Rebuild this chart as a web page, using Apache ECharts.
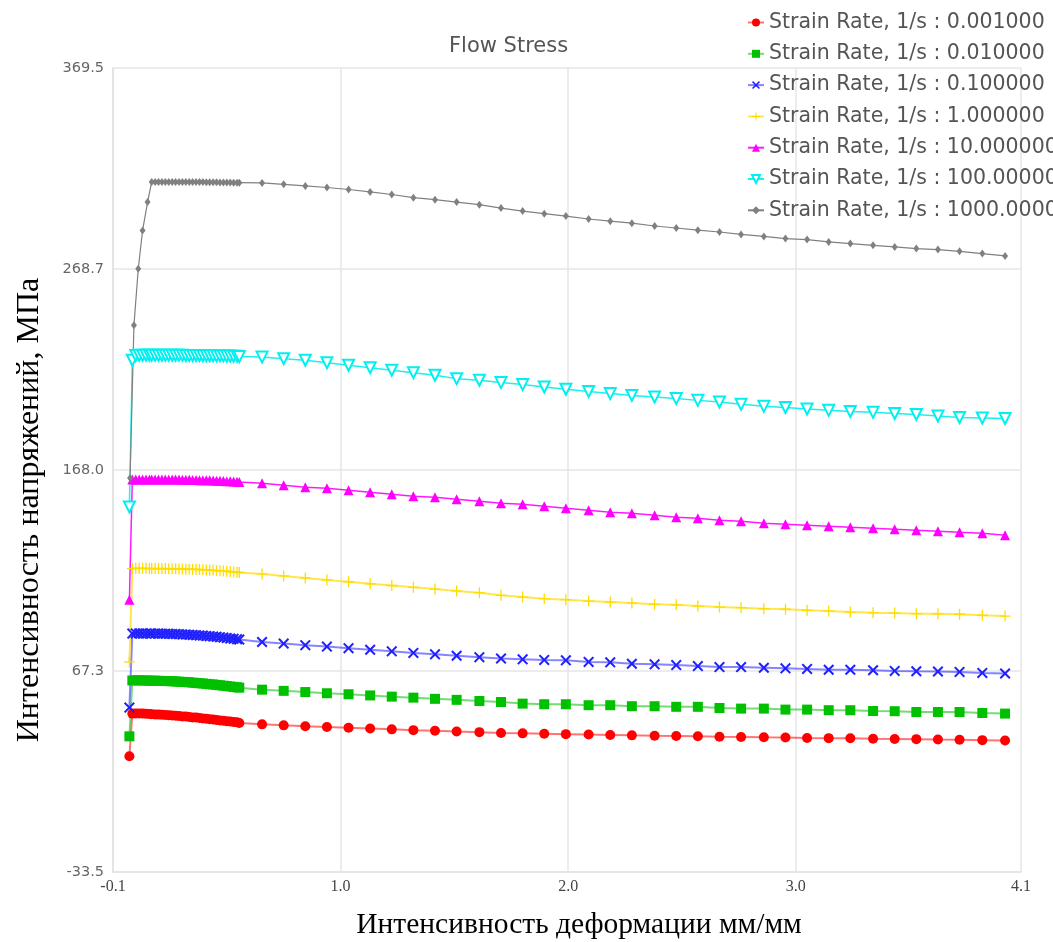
<!DOCTYPE html>
<html>
<head>
<meta charset="utf-8">
<script src="https://cdn.jsdelivr.net/npm/echarts@6/dist/echarts.min.js"></script>
<style>html,body{margin:0;padding:0;background:#fff;}#c{width:1053px;height:942px;}</style>
</head>
<body>
<div id="c"></div>
<script>
// ---- tick labels ----
const xTickLabels = ['-0.1', '1.0', '2.0', '3.0', '4.1'];
const yTickLabels = ['-33.5', '67.3', '168.0', '268.7', '369.5'];

// ---- series names ----
const seriesNames = [
  'Strain Rate, 1/s : 0.001000',
  'Strain Rate, 1/s : 0.010000',
  'Strain Rate, 1/s : 0.100000',
  'Strain Rate, 1/s : 1.000000',
  'Strain Rate, 1/s : 10.000000',
  'Strain Rate, 1/s : 100.000000',
  'Strain Rate, 1/s : 1000.000000'
];

// ---- x values (strain) ----
const headX = [0.072, 0.085, 0.1, 0.115, 0.13, 0.145, 0.16];
const greyHeadX = [0.075, 0.092, 0.111, 0.13, 0.152];
const denseX = [0.17, 0.185, 0.2, 0.215, 0.23, 0.245, 0.26, 0.275, 0.29, 0.305, 0.32, 0.335, 0.35, 0.365, 0.38, 0.395, 0.41, 0.425, 0.44, 0.455, 0.47, 0.485, 0.5, 0.515, 0.53, 0.545, 0.555];
const sparseX = [0.655, 0.75, 0.845, 0.94, 1.035, 1.13, 1.225, 1.32, 1.415, 1.51, 1.61, 1.705, 1.8, 1.895, 1.99, 2.09, 2.185, 2.28, 2.38, 2.475, 2.57, 2.665, 2.76, 2.86, 2.955, 3.05, 3.145, 3.24, 3.34, 3.435, 3.53, 3.625, 3.72, 3.82, 3.92];

// ---- stress values, MPa ----
// 0.001
const redHead = [24.5, 45.9, 46.0, 46.0, 45.9, 45.8, 45.7];
const redDense = [45.6, 45.5, 45.4, 45.3, 45.2, 45.1, 45.0, 44.8, 44.7, 44.5, 44.4, 44.2, 44.0, 43.9, 43.7, 43.5, 43.3, 43.1, 42.9, 42.7, 42.5, 42.3, 42.1, 41.9, 41.7, 41.5, 41.2];
const redSparse = [40.5, 40.0, 39.6, 39.2, 38.8, 38.4, 38.0, 37.6, 37.3, 36.9, 36.6, 36.2, 36.0, 35.8, 35.6, 35.4, 35.2, 35.0, 34.8, 34.7, 34.5, 34.3, 34.2, 34.0, 33.9, 33.7, 33.6, 33.5, 33.3, 33.2, 33.1, 32.9, 32.8, 32.6, 32.4];
// 0.01
const greenHead = [34.5, 62.5, 62.6, 62.6, 62.5, 62.5, 62.4];
const greenDense = [62.4, 62.4, 62.3, 62.3, 62.2, 62.2, 62.1, 62.0, 61.9, 61.8, 61.7, 61.6, 61.4, 61.3, 61.1, 61.0, 60.8, 60.6, 60.5, 60.3, 60.1, 59.9, 59.7, 59.5, 59.3, 59.1, 58.9];
const greenSparse = [57.9, 57.3, 56.7, 56.1, 55.6, 55.0, 54.4, 53.9, 53.3, 52.8, 52.2, 51.7, 50.9, 50.6, 50.6, 50.1, 50.1, 49.6, 49.6, 49.3, 49.3, 48.7, 48.4, 48.4, 47.9, 47.9, 47.6, 47.6, 47.2, 47.1, 46.7, 46.7, 46.7, 46.2, 45.9];
// 0.1
const blueHead = [48.9, 86.0, 86.1, 86.1, 86.1, 86.0, 86.0];
const blueDense = [86.0, 86.0, 86.0, 85.9, 85.9, 85.9, 85.8, 85.8, 85.7, 85.6, 85.5, 85.4, 85.3, 85.2, 85.1, 85.0, 84.8, 84.7, 84.5, 84.4, 84.2, 84.0, 83.8, 83.6, 83.4, 83.2, 83.0];
const blueSparse = [81.8, 81.0, 80.2, 79.5, 78.7, 77.9, 77.1, 76.3, 75.6, 74.9, 74.2, 73.5, 73.1, 72.8, 72.6, 71.8, 71.6, 70.9, 70.6, 70.2, 69.7, 69.2, 69.2, 68.9, 68.6, 68.3, 67.9, 67.9, 67.6, 67.3, 67.1, 67.0, 66.8, 66.3, 66.0];
// 1
const yellowHead = [71.8, 118.6, 118.7, 118.7, 118.7, 118.7, 118.6];
const yellowDense = [118.6, 118.6, 118.6, 118.6, 118.6, 118.5, 118.5, 118.5, 118.4, 118.4, 118.3, 118.3, 118.2, 118.2, 118.1, 118.0, 117.9, 117.8, 117.7, 117.6, 117.5, 117.4, 117.2, 117.1, 116.9, 116.8, 116.6];
const yellowSparse = [115.9, 114.9, 113.9, 112.9, 112.0, 111.0, 110.1, 109.2, 108.3, 107.4, 106.5, 105.2, 104.3, 103.5, 103.0, 102.3, 101.8, 101.3, 100.7, 100.4, 99.8, 99.3, 99.0, 98.5, 98.2, 97.7, 97.3, 96.8, 96.5, 96.3, 96.0, 95.9, 95.7, 95.2, 94.8];
// 10
const magentaHead = [103.0, 163.2, 163.3, 163.3, 163.3, 163.3, 163.3];
const magentaDense = [163.3, 163.3, 163.3, 163.3, 163.3, 163.2, 163.2, 163.2, 163.2, 163.1, 163.1, 163.1, 163.0, 163.0, 162.9, 162.9, 162.8, 162.8, 162.7, 162.6, 162.6, 162.5, 162.4, 162.3, 162.2, 162.1, 162.0];
const magentaSparse = [161.3, 160.3, 159.3, 158.8, 157.8, 156.8, 155.8, 154.8, 154.3, 153.3, 152.3, 151.3, 150.8, 149.8, 148.8, 147.8, 146.8, 146.3, 145.3, 144.3, 143.8, 142.8, 142.3, 141.3, 140.8, 140.3, 139.8, 139.3, 138.8, 138.3, 137.8, 137.3, 136.8, 136.3, 135.3];
// 100
const cyanHead = [149.5, 223.0, 225.4, 225.5, 225.5, 225.5, 225.5];
const cyanDense = [225.5, 225.5, 225.5, 225.5, 225.5, 225.5, 225.5, 225.5, 225.5, 225.5, 225.4, 225.4, 225.4, 225.4, 225.4, 225.3, 225.3, 225.3, 225.3, 225.2, 225.2, 225.2, 225.1, 225.1, 225.0, 225.0, 224.9];
const cyanSparse = [224.6, 223.8, 223.0, 221.8, 220.5, 219.3, 218.0, 216.8, 215.5, 213.8, 213.0, 211.8, 210.8, 209.6, 208.5, 207.4, 206.3, 205.4, 204.6, 203.8, 202.9, 202.1, 200.9, 199.9, 199.3, 198.6, 197.9, 197.3, 196.9, 196.3, 195.8, 195.1, 194.3, 194.1, 193.8];
// 1000
const greyHead = [164.0, 240.5, 268.9, 288.1, 302.3];
const greyDense = [312.4, 312.4, 312.4, 312.4, 312.4, 312.4, 312.4, 312.4, 312.4, 312.4, 312.3, 312.3, 312.3, 312.3, 312.3, 312.3, 312.2, 312.2, 312.2, 312.2, 312.1, 312.1, 312.1, 312.1, 312.0, 312.0, 312.0];
const greySparse = [311.9, 311.2, 310.4, 309.6, 308.6, 307.4, 306.1, 304.5, 303.5, 302.3, 301.0, 299.3, 297.8, 296.5, 295.3, 293.8, 292.7, 291.7, 290.3, 289.3, 288.2, 287.3, 286.1, 285.1, 284.0, 283.5, 282.3, 281.5, 280.6, 279.8, 279.0, 278.5, 277.6, 276.5, 275.3];

function pairs(hx, hy, dy, sy) {
  const xs = hx.concat(denseX, sparseX);
  const ys = hy.concat(dy, sy);
  return xs.map((x, i) => [x, ys[i]]);
}

const X_MARK = 'path://M0,1.3L1.3,0L5,3.7L8.7,0L10,1.3L6.3,5L10,8.7L8.7,10L5,6.3L1.3,10L0,8.7L3.7,5Z';
const PLUS_MARK = 'path://M4.4,0H5.6V4.4H10V5.6H5.6V10H4.4V5.6H0V4.4H4.4Z';

const styles = [
  {color: '#ff0000', symbol: 'circle', size: 10, lw: 2, lop: 0.55},
  {color: '#00c000', symbol: 'rect', size: 10, lw: 2, lop: 0.55},
  {color: '#2020ff', symbol: X_MARK, size: 11, lw: 2, lop: 0.55},
  {color: '#ffdd00', symbol: PLUS_MARK, size: 11, lw: 2, lop: 0.7},
  {color: '#ff00ff', symbol: 'triangle', size: 10, lw: 1.5, lop: 0.9},
  {color: '#00f0f0', symbol: 'emptyTriangle', size: 11, lw: 1.5, lop: 0.9, rotate: 180},
  {color: '#808080', symbol: 'diamond', size: [6, 8], lw: 1.2, lop: 1}
];

const dataSets = [
  pairs(headX, redHead, redDense, redSparse),
  pairs(headX, greenHead, greenDense, greenSparse),
  pairs(headX, blueHead, blueDense, blueSparse),
  pairs(headX, yellowHead, yellowDense, yellowSparse),
  pairs(headX, magentaHead, magentaDense, magentaSparse),
  pairs(headX, cyanHead, cyanDense, cyanSparse),
  pairs(greyHeadX, greyHead, greyDense, greySparse)
];

const series = seriesNames.map((name, i) => {
  const s = styles[i];
  return {
    name: name,
    type: 'line',
    data: dataSets[i],
    symbol: s.symbol,
    symbolSize: s.size,
    symbolRotate: s.rotate || 0,
    showAllSymbol: true,
    animation: false,
    itemStyle: {color: s.color, borderColor: s.color, borderWidth: s.symbol === 'emptyTriangle' ? 1.5 : 0},
    lineStyle: {color: s.color, width: s.lw, opacity: s.lop},
    emphasis: {disabled: true}
  };
});

const chart = echarts.init(document.getElementById('c'), null, {renderer: 'canvas'});
chart.setOption({
  backgroundColor: '#ffffff',
  animation: false,
  title: {
    text: 'Flow Stress', left: 444, top: 31,
    textStyle: {fontFamily: 'DejaVu Sans', fontSize: 21, fontWeight: 'normal', color: '#555'}
  },
  legend: {
    orient: 'vertical', left: 742, top: 7,
    itemWidth: 16, itemHeight: 10, itemGap: 10.3,
    textStyle: {fontFamily: 'DejaVu Sans', fontSize: 20.5, color: '#555', lineHeight: 20},
    data: seriesNames
  },
  grid: {left: 113, right: 32, top: 68, bottom: 70, containLabel: false},
  xAxis: {
    type: 'value', min: 0, max: 3.99, interval: 1,
    axisLine: {show: true, onZero: false, lineStyle: {color: '#e2e2e2', width: 1.5}},
    axisTick: {show: false},
    splitLine: {show: true, lineStyle: {color: '#e6e6e6', width: 1.5}},
    axisLabel: {
      showMinLabel: true, showMaxLabel: true, margin: 7,
      fontFamily: 'Liberation Serif', fontSize: 16, color: '#444',
      formatter: (v, i) => xTickLabels[i]
    }
  },
  yAxis: {
    type: 'value', min: -33.5, max: 369.5, interval: 100.75,
    axisLine: {show: true, onZero: false, lineStyle: {color: '#e2e2e2', width: 1.5}},
    axisTick: {show: false},
    splitLine: {show: true, lineStyle: {color: '#e6e6e6', width: 1.5}},
    axisLabel: {
      showMinLabel: true, showMaxLabel: true, margin: 9,
      fontFamily: 'DejaVu Sans', fontSize: 14.5, color: '#666',
      formatter: (v, i) => yTickLabels[i]
    }
  },
  graphic: [
    {type: 'text', x: 30, y: 510, rotation: Math.PI / 2,
      style: {text: 'Интенсивность напряжений, МПа', font: '32px "Liberation Serif"', fill: '#000', textAlign: 'center', textVerticalAlign: 'middle'}},
    {type: 'text', x: 579, y: 925,
      style: {text: 'Интенсивность деформации мм/мм', font: '29.5px "Liberation Serif"', fill: '#000', textAlign: 'center', textVerticalAlign: 'middle'}}
  ],
  series: series
});
</script>
</body>
</html>
